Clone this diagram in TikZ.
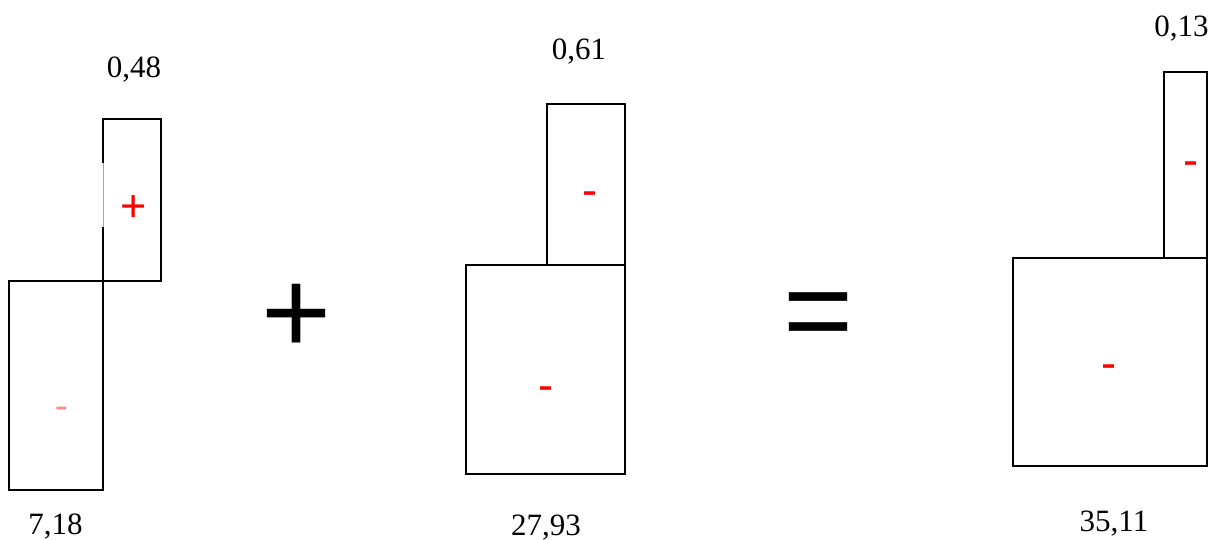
\documentclass[tikz,border=0pt]{standalone}
\usepackage{fontspec}
\setmainfont{Liberation Serif}
\newfontfamily\arialf{Liberation Sans}
\begin{document}
\begin{tikzpicture}[x=1pt,y=-1pt,
  box/.style={draw=black,line width=2pt},
  val/.style={anchor=base,inner sep=0pt,font=\fontsize{31}{31}\selectfont},
  sgn/.style={anchor=base,inner sep=0pt,text=red,font=\arialf\fontsize{45}{45}\selectfont},
  op/.style={anchor=base,inner sep=0pt,font=\arialf\fontsize{120}{120}\selectfont}]
\useasboundingbox (0,0) rectangle (1216,540);
% left figure
\draw[black!35,line width=0.6pt] (103,163) -- (103,227);
\draw[box] (103,227) -- (103,281) -- (161,281) -- (161,119) -- (103,119) -- (103,163);
\draw[box] (9,281) rectangle (103,490);
\node[sgn] (l1) at (134,222) {+};
\node[anchor=base,inner sep=0pt,text=red!45,font=\fontsize{38}{38}\selectfont] (l2) at (62,417) {-};
\node[val] (t1) at (134,77.3) {0,48};
\node[val] (t2) at (55.5,534) {7,18};
% operator plus
\node[op] (plus) at (297,353) {+};
% middle figure
\draw[box] (547,104) rectangle (625,265);
\draw[box] (466,265) rectangle (625,474);
\node[sgn] (m1) at (590,206) {-};
\node[sgn] (m2) at (546,400) {-};
\node[val] (t3) at (579,60) {0,61};
\node[val] (t4) at (546,535.5) {27,93};
% equals
\node[op] (eq) at (819,351) {=};
% right figure
\draw[box] (1164,72) rectangle (1207,258);
\draw[box] (1013,258) rectangle (1207,466);
\node[sgn] (r1) at (1190.5,176) {-};
\node[sgn] (r2) at (1109,378) {-};
\node[val] (t5) at (1181.5,37) {0,13};
\node[val] (t6) at (1114,531) {35,11};
\end{tikzpicture}
\end{document}
